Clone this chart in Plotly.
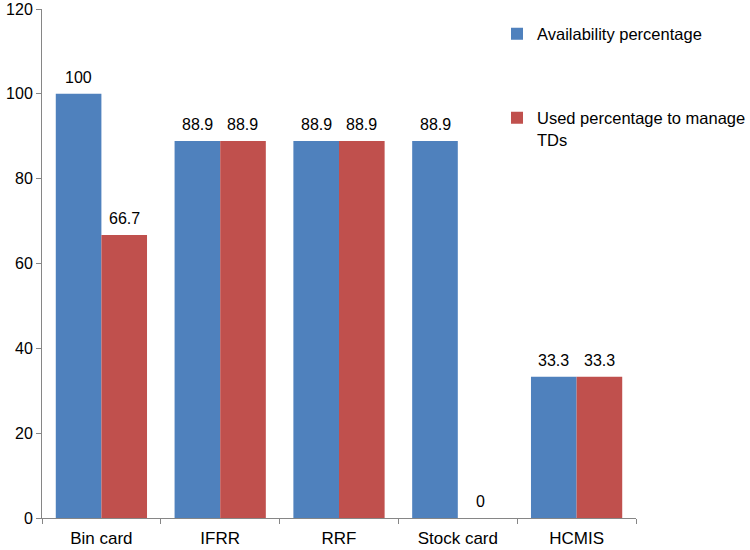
import plotly.graph_objects as go

categories = ["Bin card", "IFRR", "RRF", "Stock card", "HCMIS"]
availability = [100, 88.9, 88.9, 88.9, 33.3]
used = [66.7, 88.9, 88.9, 0, 33.3]
series_names = ["Availability percentage", "Used percentage to manage<br>TDs"]
y_ticks = [0, 20, 40, 60, 80, 100, 120]

BLUE = "#4F81BD"
RED = "#C0504D"
FONT = "Arial, Liberation Sans, sans-serif"
FS = 16
FT = 17
FL = 16.5

fig = go.Figure()
fig.add_trace(go.Bar(x=categories, y=availability, name=series_names[0], showlegend=True,
                     marker=dict(color=BLUE, line=dict(width=0)), legend="legend"))
fig.add_trace(go.Bar(x=categories, y=used, name=series_names[1], showlegend=True,
                     marker=dict(color=RED, line=dict(width=0)), legend="legend2"))

half = 22.75
for vals, shift in ((availability, -half), (used, half)):
    for c, v in zip(categories, vals):
        fig.add_annotation(x=c, y=v, xref="x", yref="y", text=f"{v:g}",
                           showarrow=False, xshift=shift, yshift=6,
                           yanchor="bottom", font=dict(size=FS, color="black", family=FONT))

fig.update_layout(
    width=750, height=550,
    margin=dict(l=42, r=114, t=9, b=32, autoexpand=False),
    paper_bgcolor="white", plot_bgcolor="white",
    barmode="group", bargap=0.232, bargroupgap=0,
    showlegend=True,
    font=dict(family=FONT, size=FS, color="black"),
    legend=dict(x=0.766, y=0.985, xanchor="left", yanchor="top", visible=True,
                bgcolor="rgba(0,0,0,0)", font=dict(size=FL), itemwidth=30,
                valign="top"),
    legend2=dict(x=0.766, y=0.82, xanchor="left", yanchor="top", visible=True,
                 bgcolor="rgba(0,0,0,0)", font=dict(size=FL), itemwidth=30,
                 valign="top"),
)
fig.update_xaxes(showline=True, linecolor="#868686", linewidth=1, automargin=False,
                 ticks="outside", tickson="boundaries", ticklen=5, tickcolor="#868686",
                 showgrid=False, tickfont=dict(size=FT), ticklabelstandoff=5)
fig.update_yaxes(range=[0, 120], tickvals=y_ticks, showline=True, linecolor="#868686",
                 linewidth=1, ticks="outside", ticklen=5, tickcolor="#868686", automargin=False,
                 showgrid=False, zeroline=False, tickfont=dict(size=FS))

fig.write_html("out.html", config={"displayModeBar": False},
               post_script="document.body.style.margin='0';")
